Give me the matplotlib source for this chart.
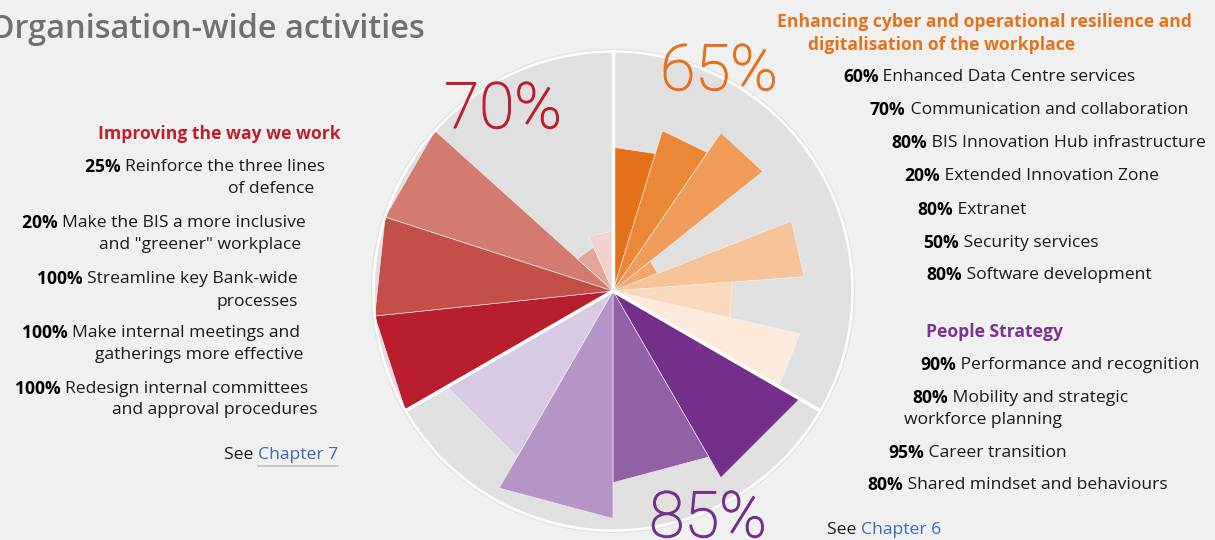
import numpy as np
import matplotlib
matplotlib.use("Agg")
from matplotlib import pyplot as plt
import matplotlib.patheffects as pe

plt.rcParams['font.family'] = ['Open Sans', 'DejaVu Sans']

# data
orange_labels = ["Enhanced Data Centre services", "Communication and collaboration",
                 "BIS Innovation Hub infrastructure", "Extended Innovation Zone",
                 "Extranet", "Security services", "Software development"]
orange_vals = [60, 70, 80, 20, 80, 50, 80]
orange_cols = ["#E4701A", "#EA8838", "#EF9C5A", "#F2A86C", "#F7C49A", "#FAD8BB", "#FCEADD"]

purple_labels = ["Performance and recognition", "Mobility and strategic\nworkforce planning",
                 "Career transition", "Shared mindset and behaviours"]
purple_vals = [90, 80, 95, 80]
purple_cols = ["#732F8A", "#9361A5", "#B595C8", "#D9CAE4"]

red_labels = ["Reinforce the three lines\nof defence",
              'Make the BIS a more inclusive\nand "greener" workplace',
              "Streamline key Bank-wide\nprocesses",
              "Make internal meetings and\ngatherings more effective",
              "Redesign internal committees\nand approval procedures"]
red_vals = [25, 20, 100, 100, 100]
red_cols = ["#F0D3CD", "#E2A59A", "#D37B6E", "#C44E48", "#B81E2D"]

group_titles = ["Enhancing cyber and operational resilience and\ndigitalisation of the workplace",
                "People Strategy", "Improving the way we work"]
group_totals = [65, 85, 70]
group_colors = ["#E5711D", "#74308B", "#BA1F2E"]

W, H = 1215, 540
fig = plt.figure(figsize=(W / 100, H / 100), dpi=100)
fig.patch.set_facecolor("#F0F0F0")

# polar rose, center (613, 291) px, radius 242 px
cx, cy, R = 613, 291, 242
ax = fig.add_axes([(cx - R) / W, 1 - (cy + R) / H, 2 * R / W, 2 * R / H], projection="polar")
ax.set_theta_zero_location("N")
ax.set_theta_direction(-1)
ax.set_facecolor("#E0E0E0")
ax.set_ylim(0, 1)
ax.grid(False)
ax.set_xticks([])
ax.set_yticks([])
ax.spines["polar"].set_visible(False)

ring = 0.99
sector = 2 * np.pi / 3

def draw_group(start, vals, cols, reverse=False):
    n = len(vals)
    w = sector / n
    order = list(range(n))[::-1] if reverse else list(range(n))
    for k, i in enumerate(order):
        t0 = start + k * w
        t1 = t0 + w
        r = vals[i] / 100 * ring
        ax.fill([t0, t0, t1], [0, r, r], color=cols[i], lw=0.4, ec="#F4F4F4")

draw_group(0, orange_vals, orange_cols)
draw_group(sector, purple_vals, purple_cols)
# red group runs anticlockwise from the top in list order
draw_group(2 * sector, red_vals, red_cols, reverse=True)

tt = np.linspace(0, 2 * np.pi, 721)
ax.plot(tt, np.full_like(tt, ring), color="white", lw=1.8)
for t in [0, sector, 2 * sector]:
    ax.plot([t, t], [0, ring], color="white", lw=2.5, solid_capstyle="butt")

# text layer in pixel coordinates
ax_t = fig.add_axes([0, 0, 1, 1])
ax_t.set_xlim(0, W)
ax_t.set_ylim(H, 0)
ax_t.axis("off")

FS = 12.6
TXT = "#1A1A1A"

def item_left(x, y, pct, label):
    b = ax_t.text(x, y, f"{pct}%", fontsize=FS, fontweight="bold", color="black",
                  ha="left", va="center")
    ax_t.annotate(" " + label, xy=(1, 0.5), xycoords=b, fontsize=FS, color=TXT,
                  ha="left", va="center")

def item_right(x, y, pct, label):
    t = ax_t.text(x, y, label, fontsize=FS, color=TXT, ha="right", va="center")
    ax_t.annotate(f"{pct}% ", xy=(0, 0.5), xycoords=t, fontsize=FS, fontweight="bold",
                  color="black", ha="right", va="center")

# title
ax_t.text(-11, 29, "Organisation-wide activities", fontsize=23.4, fontweight="semibold",
          color="#707070", ha="left", va="center")

# big totals (baseline positions)
big_pos = [(719, 90), (708, 537), (503, 128)]
for (x, y), v, c in zip(big_pos, group_totals, group_colors):
    ax_t.text(x, y, f"{v}%", fontsize=46, fontweight="light", color=c,
              ha="center", va="baseline", family=["Roboto", "DejaVu Sans"],
              path_effects=[pe.withStroke(linewidth=0.9, foreground=c)])

# orange block
head1, head2 = group_titles[0].split("\n")
ax_t.text(777, 22, head1, fontsize=FS, fontweight="bold", color=group_colors[0], ha="left", va="center")
ax_t.text(808, 45, head2, fontsize=FS, fontweight="bold", color=group_colors[0], ha="left", va="center")
orange_pos = [(843, 77), (870, 110), (891, 143), (904, 176), (917, 210), (923, 243), (926, 275)]
for (x, y), v, lab in zip(orange_pos, orange_vals, orange_labels):
    item_left(x, y, v, lab)

# purple block
ax_t.text(926, 332, group_titles[1], fontsize=FS, fontweight="bold", color="#7A3590", ha="left", va="center")
purple_pos = [(920, 365), (912, 398), (888, 453), (867, 485)]
purple_pos2 = {1: (904, 420)}
for i, ((x, y), v, lab) in enumerate(zip(purple_pos, purple_vals, purple_labels)):
    lines = lab.split("\n")
    item_left(x, y, v, lines[0])
    if len(lines) > 1:
        x2, y2 = purple_pos2[i]
        ax_t.text(x2, y2, lines[1], fontsize=FS, color=TXT, ha="left", va="center")
s6 = ax_t.text(827, 530, "See ", fontsize=FS, color=TXT, ha="left", va="center")
ax_t.annotate("Chapter 6", xy=(1, 0.5), xycoords=s6, fontsize=FS, color="#3B6DB0",
              ha="left", va="center")

# red block
ax_t.text(341, 134, group_titles[2], fontsize=FS, fontweight="bold", color="#BE1E2D", ha="right", va="center")
red_pos = [(325, 167), (306, 223), (298, 279), (300, 333), (308, 389)]
red_pos2 = [(314, 189), (301, 245), (298, 302), (303, 355), (317, 410)]
for (x, y), (x2, y2), v, lab in zip(red_pos, red_pos2, red_vals, red_labels):
    l1, l2 = lab.split("\n")
    item_right(x, y, v, l1)
    ax_t.text(x2, y2, l2, fontsize=FS, color=TXT, ha="right", va="center")
c7 = ax_t.text(338, 455, "Chapter 7", fontsize=FS, color="#3B6DB0", ha="right", va="center")
ax_t.annotate("See ", xy=(0, 0.5), xycoords=c7, fontsize=FS, color=TXT, ha="right", va="center")

# underline for the chapter link
fig.canvas.draw()
bb = c7.get_window_extent().transformed(ax_t.transData.inverted())
ax_t.plot([bb.x0, bb.x1], [466, 466], color="#B8C4D4", lw=1.2)

fig.savefig("out.png", dpi=100, facecolor=fig.get_facecolor())
